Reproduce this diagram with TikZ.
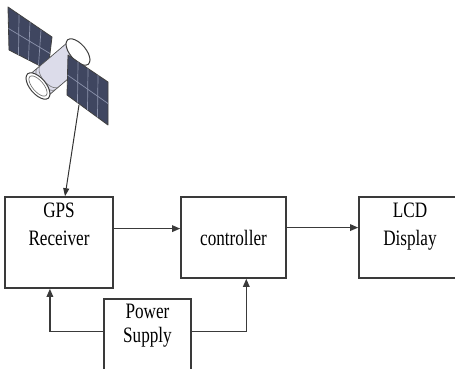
\documentclass[tikz,border=0pt]{standalone}
\usepackage{fontspec}
\setmainfont{Liberation Serif}[FakeStretch=0.78]
\usetikzlibrary{arrows.meta,calc}
\definecolor{boxline}{HTML}{3A3A3A}
\definecolor{panelc}{HTML}{3F4660}
\definecolor{cellc}{HTML}{8C93AC}
\definecolor{hullc}{HTML}{DCDCEA}
\begin{document}
\begin{tikzpicture}[x=1pt,y=-1pt,
  box/.style={draw=boxline,line width=1.6pt,fill=white,inner sep=0pt},
  lbl/.style={font=\fontsize{22}{27.5}\selectfont,align=center,inner sep=0pt,text=black},
  arr/.style={draw=boxline,line width=1.4pt,-{Triangle[length=8pt,width=6.5pt]}},
  sarr/.style={draw=black!80,line width=1pt,-{Triangle[length=8pt,width=6pt]}},
  panel/.style={fill=panelc,draw=black!75,line width=0.8pt,line join=round},
  cell/.style={draw=cellc,line width=0.7pt},
  hull/.style={fill=hullc,draw=black!70,line width=0.7pt},
  ring/.style={fill=white,draw=black!75,line width=1pt},
]
\useasboundingbox (0,0) rectangle (455,369);

% ---------- satellite ----------
% left solar panel
\filldraw[panel] (8,7) -- (52,37) -- (48,70) -- (9,50) -- cycle;
\draw[cell] (30,22) -- (28.5,60);
\draw[cell] (8.5,28.5) -- (50,53.5);
\draw[cell] (19,15) -- (18.5,55) (41,30) -- (38.5,65);
% hull (cylinder)
\filldraw[hull] (28.9,75.3) -- (68.9,41.3) -- (87.1,62.7) -- (47.1,96.7) -- cycle;
\foreach \s in {6,11,15}{
  \draw[black!55,line width=0.6pt] plot[smooth,variable=\t,samples at={0,20,...,180}]
    ({38+\s*0.762+14*cos(\t)*0.648-7*sin(\t)*0.762},
     {86-\s*0.648+14*cos(\t)*0.762+7*sin(\t)*0.648});
}
% far ring
\draw[ring] plot[smooth cycle,variable=\t,samples at={0,30,...,330}]
  ({78+16*cos(\t)*0.648+8*sin(\t)*0.762},{52+16*cos(\t)*0.762-8*sin(\t)*0.648});
% near ring
\draw[ring] plot[smooth cycle,variable=\t,samples at={0,30,...,330}]
  ({38+16*cos(\t)*0.648+8*sin(\t)*0.762},{86+16*cos(\t)*0.762-8*sin(\t)*0.648});
\draw[black!60,line width=0.6pt] plot[smooth cycle,variable=\t,samples at={0,30,...,330}]
  ({38+12.5*cos(\t)*0.648+5.5*sin(\t)*0.762},{86+12.5*cos(\t)*0.762-5.5*sin(\t)*0.648});
% right solar panel
\filldraw[panel] (68,55) -- (108,82) -- (108,125) -- (67,95) -- cycle;
\draw[cell] (88,68.5) -- (87.5,110);
\draw[cell] (67.5,75) -- (108,103.5);
\draw[cell] (78,62) -- (77.5,102.5) (98,75) -- (97.5,117.5);
\coordinate (sat) at (79,105);

% ---------- blocks ----------
\node[box,minimum width=108pt,minimum height=91pt,
  label={[lbl,anchor=north,yshift=-7pt]north:GPS\\Receiver}] (gps) at (59,242.5) {};
\node[box,minimum width=105pt,minimum height=81pt,
  label={[lbl,anchor=north,yshift=-33.4pt]north:controller}] (ctrl) at (233.5,237.5) {};
\node[box,minimum width=102pt,minimum height=81pt,
  label={[lbl,anchor=north,yshift=-7pt]north:LCD\\Display}] (lcd) at (410,237.5) {};
\node[box,minimum width=87pt,minimum height=84pt,
  label={[lbl,font=\fontsize{22}{24.5}\selectfont,anchor=north,yshift=-5.5pt]north:Power\\Supply}] (psu) at (147.5,341) {};

% ---------- connectors ----------
\draw[sarr] (sat) -- ($(gps.north west)!0.555!(gps.north east)$);
\coordinate (r1) at ($(gps.north east)!0.35!(gps.south east)$);
\draw[arr] (r1) -- (r1 -| ctrl.west);
\coordinate (r2) at ($(ctrl.north east)!0.38!(ctrl.south east)$);
\draw[arr] (r2) -- (r2 -| lcd.west);
\coordinate (p1) at ($(psu.north west)+(0,33)$);
\draw[arr] (p1) -| ($(gps.south west)!0.417!(gps.south east)$);
\coordinate (p2) at ($(psu.north east)+(0,33)$);
\draw[arr] (p2) -| ($(ctrl.south west)!0.62!(ctrl.south east)$);
\end{tikzpicture}
\end{document}
